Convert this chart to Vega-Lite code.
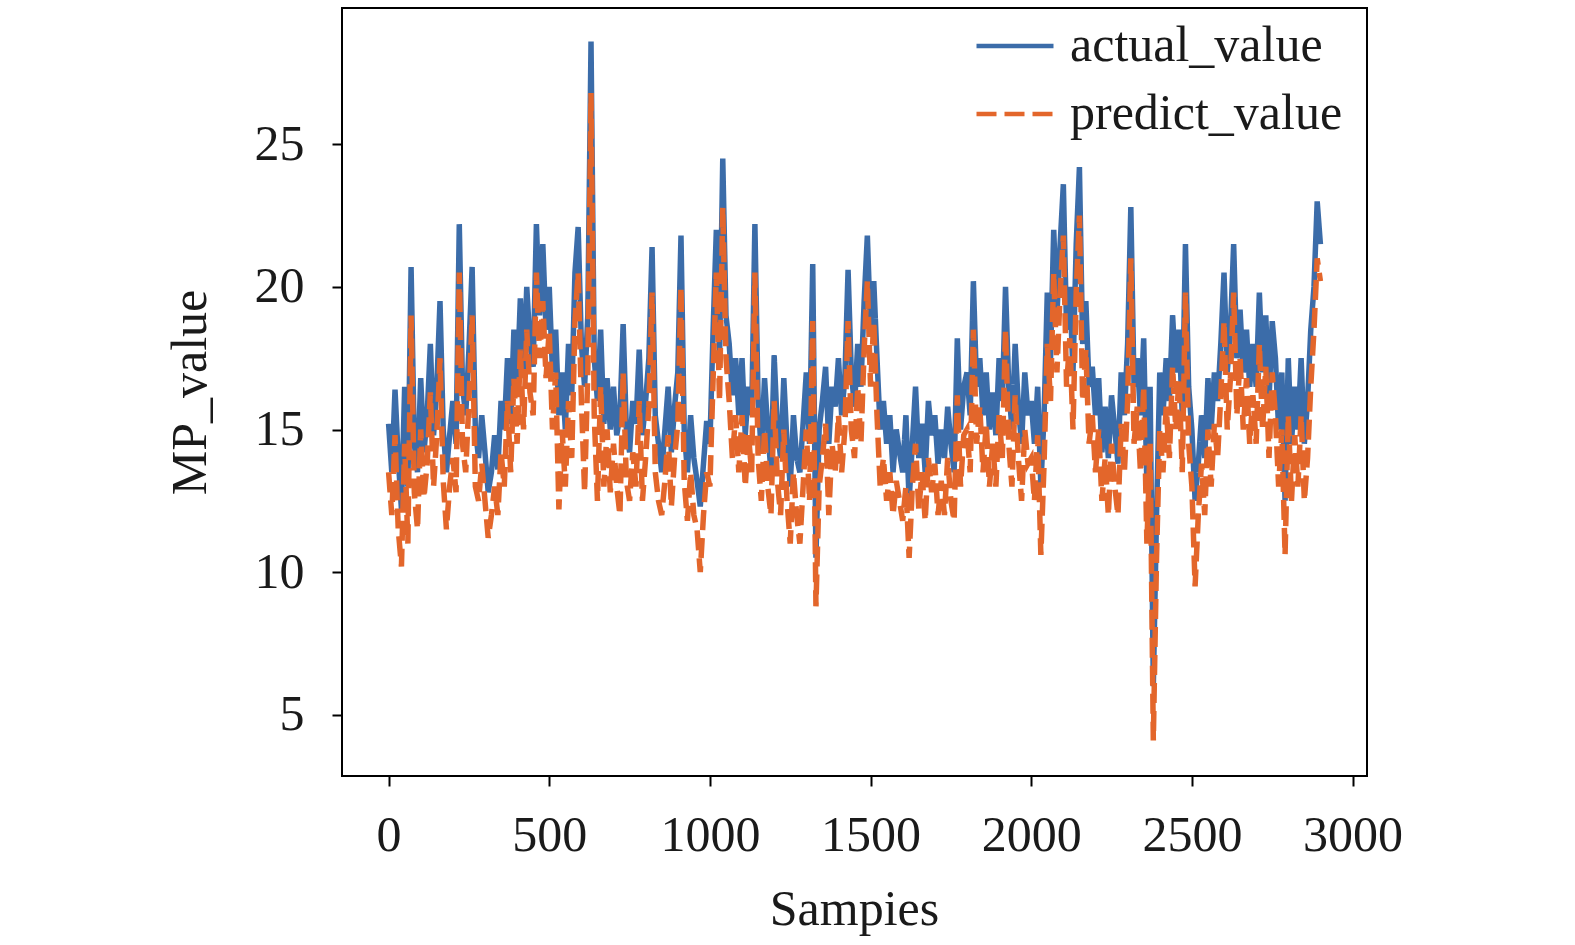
{
  "$schema": "https://vega.github.io/schema/vega-lite/v6.json",
  "width": 1025,
  "height": 768,
  "autosize": {"type": "none"},
  "padding": {"left": 342, "top": 8, "right": 208, "bottom": 169},
  "background": "white",
  "config": {
    "font": "Liberation Serif",
    "view": {"stroke": "#000000", "strokeWidth": 2}
  },
  "data": {
    "values": [
      {"sample": 0, "actual_value": 15.2, "predict_value": 13.5},
      {"sample": 10, "actual_value": 13.5, "predict_value": 12.0},
      {"sample": 20, "actual_value": 16.4, "predict_value": 14.8},
      {"sample": 30, "actual_value": 14.0, "predict_value": 11.5},
      {"sample": 40, "actual_value": 12.2, "predict_value": 10.2},
      {"sample": 50, "actual_value": 16.5, "predict_value": 14.5},
      {"sample": 60, "actual_value": 13.0, "predict_value": 11.0},
      {"sample": 70, "actual_value": 20.7, "predict_value": 19.0},
      {"sample": 80, "actual_value": 14.5, "predict_value": 12.8},
      {"sample": 90, "actual_value": 13.5, "predict_value": 11.5},
      {"sample": 100, "actual_value": 16.8, "predict_value": 15.0},
      {"sample": 110, "actual_value": 14.2, "predict_value": 12.6},
      {"sample": 120, "actual_value": 15.5, "predict_value": 13.8},
      {"sample": 130, "actual_value": 18.0, "predict_value": 16.3},
      {"sample": 140, "actual_value": 14.8, "predict_value": 13.0},
      {"sample": 150, "actual_value": 16.5, "predict_value": 14.8},
      {"sample": 160, "actual_value": 19.5, "predict_value": 17.5},
      {"sample": 170, "actual_value": 15.0, "predict_value": 13.2},
      {"sample": 180, "actual_value": 13.5, "predict_value": 11.5},
      {"sample": 190, "actual_value": 14.8, "predict_value": 13.0},
      {"sample": 200, "actual_value": 16.0, "predict_value": 14.0},
      {"sample": 210, "actual_value": 14.5, "predict_value": 12.8},
      {"sample": 220, "actual_value": 22.2, "predict_value": 20.5},
      {"sample": 230, "actual_value": 16.5, "predict_value": 14.5},
      {"sample": 240, "actual_value": 15.5, "predict_value": 13.5},
      {"sample": 250, "actual_value": 17.8, "predict_value": 16.0},
      {"sample": 260, "actual_value": 20.7, "predict_value": 19.0},
      {"sample": 270, "actual_value": 15.0, "predict_value": 13.0},
      {"sample": 280, "actual_value": 14.0, "predict_value": 12.5},
      {"sample": 290, "actual_value": 15.5, "predict_value": 13.8},
      {"sample": 300, "actual_value": 14.2, "predict_value": 12.5},
      {"sample": 310, "actual_value": 12.8, "predict_value": 11.2},
      {"sample": 320, "actual_value": 13.5, "predict_value": 12.0},
      {"sample": 330, "actual_value": 14.8, "predict_value": 13.0},
      {"sample": 340, "actual_value": 13.6, "predict_value": 12.0},
      {"sample": 350, "actual_value": 16.0, "predict_value": 14.2},
      {"sample": 360, "actual_value": 15.0, "predict_value": 13.0},
      {"sample": 370, "actual_value": 17.5, "predict_value": 16.0},
      {"sample": 380, "actual_value": 15.2, "predict_value": 13.5},
      {"sample": 390, "actual_value": 18.5, "predict_value": 16.8},
      {"sample": 400, "actual_value": 16.5, "predict_value": 14.5},
      {"sample": 410, "actual_value": 19.6, "predict_value": 17.8},
      {"sample": 420, "actual_value": 17.0, "predict_value": 15.0},
      {"sample": 430, "actual_value": 20.0, "predict_value": 18.5},
      {"sample": 440, "actual_value": 18.0, "predict_value": 16.3},
      {"sample": 450, "actual_value": 17.2, "predict_value": 15.5},
      {"sample": 460, "actual_value": 22.2, "predict_value": 20.5},
      {"sample": 470, "actual_value": 19.0, "predict_value": 17.5},
      {"sample": 480, "actual_value": 21.5, "predict_value": 19.5},
      {"sample": 490, "actual_value": 18.5, "predict_value": 16.8},
      {"sample": 500, "actual_value": 20.0, "predict_value": 18.5},
      {"sample": 510, "actual_value": 17.0, "predict_value": 15.0},
      {"sample": 520, "actual_value": 18.5, "predict_value": 17.0},
      {"sample": 530, "actual_value": 15.5, "predict_value": 12.2},
      {"sample": 540, "actual_value": 17.0, "predict_value": 15.0},
      {"sample": 550, "actual_value": 15.0, "predict_value": 13.0},
      {"sample": 560, "actual_value": 18.0, "predict_value": 16.0},
      {"sample": 570, "actual_value": 16.2, "predict_value": 14.0},
      {"sample": 580, "actual_value": 20.5, "predict_value": 18.8},
      {"sample": 590, "actual_value": 22.1, "predict_value": 20.5},
      {"sample": 600, "actual_value": 18.0, "predict_value": 16.0},
      {"sample": 610, "actual_value": 16.5, "predict_value": 12.8},
      {"sample": 620, "actual_value": 19.0, "predict_value": 17.0},
      {"sample": 630, "actual_value": 28.6, "predict_value": 26.8},
      {"sample": 640, "actual_value": 17.5, "predict_value": 15.5},
      {"sample": 650, "actual_value": 16.0, "predict_value": 12.5},
      {"sample": 660, "actual_value": 18.5, "predict_value": 16.5},
      {"sample": 670, "actual_value": 15.2, "predict_value": 13.0},
      {"sample": 680, "actual_value": 16.8, "predict_value": 15.0},
      {"sample": 690, "actual_value": 15.0, "predict_value": 12.8},
      {"sample": 700, "actual_value": 16.5, "predict_value": 14.5},
      {"sample": 710, "actual_value": 14.8, "predict_value": 13.0},
      {"sample": 720, "actual_value": 15.5, "predict_value": 12.0},
      {"sample": 730, "actual_value": 18.7, "predict_value": 17.0},
      {"sample": 740, "actual_value": 15.0, "predict_value": 13.2},
      {"sample": 750, "actual_value": 14.2, "predict_value": 12.5},
      {"sample": 760, "actual_value": 16.0, "predict_value": 14.2},
      {"sample": 770, "actual_value": 15.2, "predict_value": 13.0},
      {"sample": 780, "actual_value": 17.8, "predict_value": 16.0},
      {"sample": 790, "actual_value": 14.8, "predict_value": 12.5},
      {"sample": 800, "actual_value": 16.0, "predict_value": 14.0},
      {"sample": 810, "actual_value": 17.5, "predict_value": 15.8},
      {"sample": 820, "actual_value": 21.4, "predict_value": 19.8},
      {"sample": 830, "actual_value": 15.5, "predict_value": 13.5},
      {"sample": 840, "actual_value": 14.5, "predict_value": 12.5},
      {"sample": 850, "actual_value": 13.5, "predict_value": 12.0},
      {"sample": 860, "actual_value": 15.0, "predict_value": 13.2},
      {"sample": 870, "actual_value": 16.5, "predict_value": 14.8},
      {"sample": 880, "actual_value": 14.2, "predict_value": 12.3},
      {"sample": 890, "actual_value": 15.8, "predict_value": 14.0},
      {"sample": 900, "actual_value": 17.0, "predict_value": 15.2},
      {"sample": 910, "actual_value": 21.8, "predict_value": 20.0},
      {"sample": 920, "actual_value": 15.0, "predict_value": 13.2},
      {"sample": 930, "actual_value": 13.5, "predict_value": 11.8},
      {"sample": 940, "actual_value": 15.5, "predict_value": 13.5},
      {"sample": 950, "actual_value": 14.0, "predict_value": 12.0},
      {"sample": 960, "actual_value": 13.2, "predict_value": 11.5},
      {"sample": 970, "actual_value": 12.3, "predict_value": 10.0},
      {"sample": 980, "actual_value": 13.8, "predict_value": 12.0},
      {"sample": 990, "actual_value": 15.3, "predict_value": 13.5},
      {"sample": 1000, "actual_value": 14.5, "predict_value": 13.0},
      {"sample": 1010, "actual_value": 18.5, "predict_value": 16.8},
      {"sample": 1020, "actual_value": 22.0, "predict_value": 20.5},
      {"sample": 1030, "actual_value": 17.5, "predict_value": 16.0},
      {"sample": 1040, "actual_value": 24.5, "predict_value": 22.8},
      {"sample": 1050, "actual_value": 19.0, "predict_value": 17.5},
      {"sample": 1060, "actual_value": 18.0, "predict_value": 16.0},
      {"sample": 1070, "actual_value": 16.2, "predict_value": 14.0},
      {"sample": 1080, "actual_value": 17.5, "predict_value": 15.5},
      {"sample": 1090, "actual_value": 15.5, "predict_value": 13.5},
      {"sample": 1100, "actual_value": 17.5, "predict_value": 15.5},
      {"sample": 1110, "actual_value": 14.8, "predict_value": 13.0},
      {"sample": 1120, "actual_value": 16.5, "predict_value": 14.8},
      {"sample": 1130, "actual_value": 15.5, "predict_value": 13.5},
      {"sample": 1140, "actual_value": 22.2, "predict_value": 20.5},
      {"sample": 1150, "actual_value": 16.0, "predict_value": 14.0},
      {"sample": 1160, "actual_value": 14.2, "predict_value": 12.5},
      {"sample": 1170, "actual_value": 16.8, "predict_value": 15.0},
      {"sample": 1180, "actual_value": 15.0, "predict_value": 13.0},
      {"sample": 1190, "actual_value": 13.5, "predict_value": 12.0},
      {"sample": 1200, "actual_value": 17.6, "predict_value": 16.0},
      {"sample": 1210, "actual_value": 15.0, "predict_value": 13.2},
      {"sample": 1220, "actual_value": 14.0, "predict_value": 12.0},
      {"sample": 1230, "actual_value": 16.8, "predict_value": 15.0},
      {"sample": 1240, "actual_value": 14.5, "predict_value": 12.5},
      {"sample": 1250, "actual_value": 13.0, "predict_value": 11.0},
      {"sample": 1260, "actual_value": 15.5, "predict_value": 13.5},
      {"sample": 1270, "actual_value": 14.0, "predict_value": 12.0},
      {"sample": 1280, "actual_value": 13.5, "predict_value": 11.0},
      {"sample": 1290, "actual_value": 15.2, "predict_value": 13.0},
      {"sample": 1300, "actual_value": 17.0, "predict_value": 15.0},
      {"sample": 1310, "actual_value": 14.5, "predict_value": 12.5},
      {"sample": 1320, "actual_value": 20.8, "predict_value": 18.8},
      {"sample": 1330, "actual_value": 10.5, "predict_value": 8.8},
      {"sample": 1340, "actual_value": 15.0, "predict_value": 13.0},
      {"sample": 1350, "actual_value": 16.0, "predict_value": 14.0},
      {"sample": 1360, "actual_value": 17.2, "predict_value": 15.2},
      {"sample": 1370, "actual_value": 14.5, "predict_value": 12.0},
      {"sample": 1380, "actual_value": 16.5, "predict_value": 14.5},
      {"sample": 1390, "actual_value": 15.8, "predict_value": 13.5},
      {"sample": 1400, "actual_value": 17.5, "predict_value": 15.5},
      {"sample": 1410, "actual_value": 15.5, "predict_value": 13.5},
      {"sample": 1420, "actual_value": 16.8, "predict_value": 15.0},
      {"sample": 1430, "actual_value": 20.6, "predict_value": 18.8},
      {"sample": 1440, "actual_value": 17.0, "predict_value": 15.0},
      {"sample": 1450, "actual_value": 15.8, "predict_value": 14.0},
      {"sample": 1460, "actual_value": 18.0, "predict_value": 16.5},
      {"sample": 1470, "actual_value": 16.5, "predict_value": 14.5},
      {"sample": 1480, "actual_value": 19.5, "predict_value": 17.8},
      {"sample": 1490, "actual_value": 21.8, "predict_value": 20.2},
      {"sample": 1500, "actual_value": 18.5, "predict_value": 16.5},
      {"sample": 1510, "actual_value": 20.2, "predict_value": 18.8},
      {"sample": 1520, "actual_value": 17.5, "predict_value": 15.5},
      {"sample": 1530, "actual_value": 15.0, "predict_value": 13.0},
      {"sample": 1540, "actual_value": 16.0, "predict_value": 14.0},
      {"sample": 1550, "actual_value": 14.5, "predict_value": 12.5},
      {"sample": 1560, "actual_value": 15.5, "predict_value": 13.5},
      {"sample": 1570, "actual_value": 13.5, "predict_value": 12.0},
      {"sample": 1580, "actual_value": 15.0, "predict_value": 13.2},
      {"sample": 1590, "actual_value": 14.2, "predict_value": 12.5},
      {"sample": 1600, "actual_value": 13.5, "predict_value": 11.8},
      {"sample": 1610, "actual_value": 15.5, "predict_value": 13.0},
      {"sample": 1620, "actual_value": 12.5, "predict_value": 10.5},
      {"sample": 1630, "actual_value": 14.5, "predict_value": 13.0},
      {"sample": 1640, "actual_value": 16.5, "predict_value": 14.5},
      {"sample": 1650, "actual_value": 14.0, "predict_value": 12.2},
      {"sample": 1660, "actual_value": 15.2, "predict_value": 13.5},
      {"sample": 1670, "actual_value": 13.5, "predict_value": 11.8},
      {"sample": 1680, "actual_value": 16.0, "predict_value": 14.0},
      {"sample": 1690, "actual_value": 14.8, "predict_value": 12.8},
      {"sample": 1700, "actual_value": 15.5, "predict_value": 13.8},
      {"sample": 1710, "actual_value": 13.8, "predict_value": 12.0},
      {"sample": 1720, "actual_value": 15.0, "predict_value": 13.2},
      {"sample": 1730, "actual_value": 14.0, "predict_value": 12.0},
      {"sample": 1740, "actual_value": 15.8, "predict_value": 14.0},
      {"sample": 1750, "actual_value": 14.5, "predict_value": 12.5},
      {"sample": 1760, "actual_value": 13.5, "predict_value": 11.8},
      {"sample": 1770, "actual_value": 18.2, "predict_value": 16.2},
      {"sample": 1780, "actual_value": 15.0, "predict_value": 13.0},
      {"sample": 1790, "actual_value": 16.5, "predict_value": 14.8},
      {"sample": 1800, "actual_value": 17.0, "predict_value": 15.0},
      {"sample": 1810, "actual_value": 15.5, "predict_value": 13.5},
      {"sample": 1820, "actual_value": 20.2, "predict_value": 18.5},
      {"sample": 1830, "actual_value": 16.5, "predict_value": 14.5},
      {"sample": 1840, "actual_value": 17.5, "predict_value": 15.8},
      {"sample": 1850, "actual_value": 15.5, "predict_value": 13.5},
      {"sample": 1860, "actual_value": 17.0, "predict_value": 15.2},
      {"sample": 1870, "actual_value": 15.0, "predict_value": 13.0},
      {"sample": 1880, "actual_value": 16.3, "predict_value": 14.5},
      {"sample": 1890, "actual_value": 14.8, "predict_value": 13.0},
      {"sample": 1900, "actual_value": 17.5, "predict_value": 15.5},
      {"sample": 1910, "actual_value": 16.0, "predict_value": 14.0},
      {"sample": 1920, "actual_value": 20.0, "predict_value": 18.5},
      {"sample": 1930, "actual_value": 16.5, "predict_value": 14.5},
      {"sample": 1940, "actual_value": 15.0, "predict_value": 13.0},
      {"sample": 1950, "actual_value": 18.0, "predict_value": 16.2},
      {"sample": 1960, "actual_value": 15.8, "predict_value": 14.0},
      {"sample": 1970, "actual_value": 14.5, "predict_value": 12.5},
      {"sample": 1980, "actual_value": 17.0, "predict_value": 15.0},
      {"sample": 1990, "actual_value": 15.5, "predict_value": 13.8},
      {"sample": 2000, "actual_value": 16.0, "predict_value": 14.0},
      {"sample": 2010, "actual_value": 14.5, "predict_value": 12.5},
      {"sample": 2020, "actual_value": 16.5, "predict_value": 14.8},
      {"sample": 2030, "actual_value": 13.0, "predict_value": 10.6},
      {"sample": 2040, "actual_value": 15.5, "predict_value": 13.8},
      {"sample": 2050, "actual_value": 19.8, "predict_value": 18.0},
      {"sample": 2060, "actual_value": 17.5, "predict_value": 16.0},
      {"sample": 2070, "actual_value": 22.0, "predict_value": 20.5},
      {"sample": 2080, "actual_value": 19.0, "predict_value": 17.0},
      {"sample": 2090, "actual_value": 21.5, "predict_value": 19.8},
      {"sample": 2100, "actual_value": 23.6, "predict_value": 21.8},
      {"sample": 2110, "actual_value": 18.5, "predict_value": 16.5},
      {"sample": 2120, "actual_value": 20.0, "predict_value": 18.2},
      {"sample": 2130, "actual_value": 17.0, "predict_value": 15.0},
      {"sample": 2140, "actual_value": 21.5, "predict_value": 19.8},
      {"sample": 2150, "actual_value": 24.2, "predict_value": 22.5},
      {"sample": 2160, "actual_value": 18.0, "predict_value": 16.0},
      {"sample": 2170, "actual_value": 19.5, "predict_value": 17.8},
      {"sample": 2180, "actual_value": 16.5, "predict_value": 14.5},
      {"sample": 2190, "actual_value": 17.2, "predict_value": 15.5},
      {"sample": 2200, "actual_value": 15.5, "predict_value": 13.5},
      {"sample": 2210, "actual_value": 16.8, "predict_value": 15.0},
      {"sample": 2220, "actual_value": 14.2, "predict_value": 12.5},
      {"sample": 2230, "actual_value": 15.8, "predict_value": 14.0},
      {"sample": 2240, "actual_value": 14.0, "predict_value": 12.0},
      {"sample": 2250, "actual_value": 16.2, "predict_value": 14.5},
      {"sample": 2260, "actual_value": 15.0, "predict_value": 13.0},
      {"sample": 2270, "actual_value": 13.8, "predict_value": 12.0},
      {"sample": 2280, "actual_value": 17.0, "predict_value": 15.2},
      {"sample": 2290, "actual_value": 15.5, "predict_value": 13.5},
      {"sample": 2300, "actual_value": 18.0, "predict_value": 16.0},
      {"sample": 2310, "actual_value": 22.8, "predict_value": 21.0},
      {"sample": 2320, "actual_value": 16.5, "predict_value": 14.5},
      {"sample": 2330, "actual_value": 17.5, "predict_value": 15.8},
      {"sample": 2340, "actual_value": 15.5, "predict_value": 13.5},
      {"sample": 2350, "actual_value": 18.2, "predict_value": 16.5},
      {"sample": 2360, "actual_value": 13.0, "predict_value": 11.0},
      {"sample": 2370, "actual_value": 16.5, "predict_value": 14.5},
      {"sample": 2380, "actual_value": 6.0, "predict_value": 4.1},
      {"sample": 2390, "actual_value": 12.0, "predict_value": 10.5},
      {"sample": 2400, "actual_value": 17.0, "predict_value": 15.0},
      {"sample": 2410, "actual_value": 15.5, "predict_value": 13.5},
      {"sample": 2420, "actual_value": 17.5, "predict_value": 15.8},
      {"sample": 2430, "actual_value": 16.0, "predict_value": 14.0},
      {"sample": 2440, "actual_value": 19.0, "predict_value": 17.2},
      {"sample": 2450, "actual_value": 17.0, "predict_value": 15.0},
      {"sample": 2460, "actual_value": 18.5, "predict_value": 16.8},
      {"sample": 2470, "actual_value": 15.5, "predict_value": 13.5},
      {"sample": 2480, "actual_value": 21.5, "predict_value": 19.8},
      {"sample": 2490, "actual_value": 16.5, "predict_value": 14.5},
      {"sample": 2500, "actual_value": 15.0, "predict_value": 13.0},
      {"sample": 2510, "actual_value": 12.5, "predict_value": 9.5},
      {"sample": 2520, "actual_value": 13.8, "predict_value": 12.0},
      {"sample": 2530, "actual_value": 15.5, "predict_value": 13.8},
      {"sample": 2540, "actual_value": 14.0, "predict_value": 12.0},
      {"sample": 2550, "actual_value": 16.8, "predict_value": 15.0},
      {"sample": 2560, "actual_value": 15.0, "predict_value": 13.0},
      {"sample": 2570, "actual_value": 17.0, "predict_value": 15.2},
      {"sample": 2580, "actual_value": 16.0, "predict_value": 14.0},
      {"sample": 2590, "actual_value": 18.0, "predict_value": 16.2},
      {"sample": 2600, "actual_value": 20.5, "predict_value": 18.8},
      {"sample": 2610, "actual_value": 17.0, "predict_value": 15.0},
      {"sample": 2620, "actual_value": 18.5, "predict_value": 16.8},
      {"sample": 2630, "actual_value": 21.5, "predict_value": 19.8},
      {"sample": 2640, "actual_value": 17.5, "predict_value": 15.5},
      {"sample": 2650, "actual_value": 19.2, "predict_value": 17.5},
      {"sample": 2660, "actual_value": 17.0, "predict_value": 15.0},
      {"sample": 2670, "actual_value": 18.5, "predict_value": 16.8},
      {"sample": 2680, "actual_value": 16.5, "predict_value": 14.5},
      {"sample": 2690, "actual_value": 18.0, "predict_value": 16.2},
      {"sample": 2700, "actual_value": 16.5, "predict_value": 14.5},
      {"sample": 2710, "actual_value": 19.8, "predict_value": 18.0},
      {"sample": 2720, "actual_value": 17.0, "predict_value": 15.0},
      {"sample": 2730, "actual_value": 19.0, "predict_value": 17.2},
      {"sample": 2740, "actual_value": 16.0, "predict_value": 14.0},
      {"sample": 2750, "actual_value": 18.8, "predict_value": 17.0},
      {"sample": 2760, "actual_value": 17.5, "predict_value": 15.5},
      {"sample": 2770, "actual_value": 15.0, "predict_value": 13.0},
      {"sample": 2780, "actual_value": 17.0, "predict_value": 15.0},
      {"sample": 2790, "actual_value": 12.5, "predict_value": 10.6},
      {"sample": 2800, "actual_value": 17.5, "predict_value": 15.5},
      {"sample": 2810, "actual_value": 14.5, "predict_value": 12.5},
      {"sample": 2820, "actual_value": 16.5, "predict_value": 14.8},
      {"sample": 2830, "actual_value": 15.0, "predict_value": 13.0},
      {"sample": 2840, "actual_value": 17.5, "predict_value": 15.5},
      {"sample": 2850, "actual_value": 14.5, "predict_value": 12.5},
      {"sample": 2860, "actual_value": 16.0, "predict_value": 14.0},
      {"sample": 2870, "actual_value": 18.5, "predict_value": 16.5},
      {"sample": 2880, "actual_value": 20.0, "predict_value": 18.5},
      {"sample": 2890, "actual_value": 23.0, "predict_value": 21.0},
      {"sample": 2900, "actual_value": 21.5, "predict_value": 20.2}
    ]
  },
  "transform": [
    {"fold": ["actual_value", "predict_value"], "as": ["series", "value"]}
  ],
  "mark": {"type": "line", "strokeWidth": 5.5, "clip": true},
  "encoding": {
    "x": {
      "field": "sample",
      "type": "quantitative",
      "scale": {"domain": [-145, 3045], "nice": false, "zero": false},
      "axis": {
        "values": [0, 500, 1000, 1500, 2000, 2500, 3000],
        "format": "d",
        "title": "Sampies",
        "grid": false,
        "domain": false,
        "tickColor": "#000000",
        "tickSize": 10,
        "tickWidth": 2,
        "labelFontSize": 50,
        "labelColor": "#1a1a1a",
        "labelPadding": 24,
        "titleFontSize": 50,
        "titleFontWeight": "normal",
        "titleColor": "#1a1a1a",
        "titleX": 512,
        "titleY": 148,
        "titleBaseline": "alphabetic"
      }
    },
    "y": {
      "field": "value",
      "type": "quantitative",
      "scale": {"domain": [2.85, 29.78], "nice": false, "zero": false},
      "axis": {
        "values": [5, 10, 15, 20, 25],
        "title": "MP_value",
        "grid": false,
        "domain": false,
        "tickColor": "#000000",
        "tickSize": 10,
        "tickWidth": 2,
        "labelFontSize": 50,
        "labelColor": "#1a1a1a",
        "labelPadding": 28,
        "titleFontSize": 50,
        "titleFontWeight": "normal",
        "titleColor": "#1a1a1a",
        "titleAngle": -90,
        "titleX": -152,
        "titleY": 384,
        "titleAlign": "center",
        "titleBaseline": "middle"
      }
    },
    "color": {
      "field": "series",
      "type": "nominal",
      "scale": {"domain": ["actual_value", "predict_value"], "range": ["#3b6ca9", "#e3662b"]},
      "legend": {
        "title": null,
        "orient": "none",
        "legendX": 632,
        "legendY": 4,
        "symbolType": "stroke",
        "symbolSize": 5929,
        "symbolStrokeWidth": 4.5,
        "labelFontSize": 50,
        "labelColor": "#1a1a1a",
        "labelOffset": 14,
        "labelLimit": 0,
        "rowPadding": 0,
        "clipHeight": 68
      }
    },
    "strokeDash": {
      "field": "series",
      "type": "nominal",
      "scale": {"domain": ["actual_value", "predict_value"], "range": [[1, 0], [20, 8]]},
      "legend": {
        "title": null,
        "orient": "none",
        "legendX": 632,
        "legendY": 4,
        "symbolType": "stroke",
        "symbolSize": 5929,
        "symbolStrokeWidth": 4.5,
        "labelFontSize": 50,
        "labelColor": "#1a1a1a",
        "labelOffset": 14,
        "labelLimit": 0,
        "rowPadding": 0,
        "clipHeight": 68
      }
    }
  }
}
